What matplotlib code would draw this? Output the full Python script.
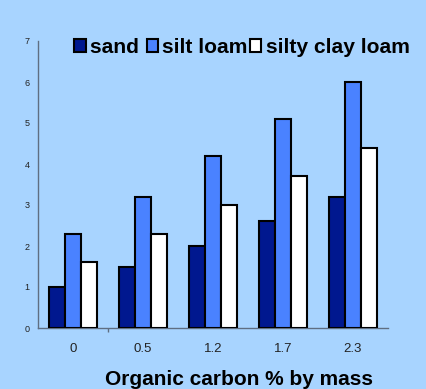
import matplotlib
matplotlib.use("Agg")
import matplotlib.pyplot as plt
import matplotlib.patches as mpatches
import numpy as np

plt.rcParams['font.family'] = ['Liberation Sans', 'DejaVu Sans']

# data
categories = ['0', '0.5', '1.2', '1.7', '2.3']
series_names = ['sand', 'silt loam', 'silty clay loam']
sand = [1.0, 1.5, 2.0, 2.6, 3.2]
silt_loam = [2.3, 3.2, 4.2, 5.1, 6.0]
silty_clay_loam = [1.6, 2.3, 3.0, 3.7, 4.4]
y_ticks = [0, 1, 2, 3, 4, 5, 6, 7]

bg = '#A8D4FF'
colors = ['#00188F', '#4A82FF', '#FFFFFF']

dpi = 100
fig = plt.figure(figsize=(4.26, 3.89), dpi=dpi, facecolor=bg)
ax = fig.add_axes([38 / 426, 61 / 389, 350 / 426, 287 / 389])
ax.set_facecolor(bg)

x = np.arange(len(categories))
w = 0.23
for i, (vals, c) in enumerate(zip([sand, silt_loam, silty_clay_loam], colors)):
	ax.bar(x + (i - 1) * w, vals, w, color=c, edgecolor='black', linewidth=1.5, zorder=3)

ax.set_xlim(-0.5, len(categories) - 0.5)
ax.set_ylim(0, 7)

for s in ['top', 'right']:
	ax.spines[s].set_visible(False)
for s in ['left', 'bottom']:
	ax.spines[s].set_color('#5F6E82')
	ax.spines[s].set_linewidth(1.0)

ax.set_yticks(y_ticks)
ax.set_yticklabels([str(t) for t in y_ticks], fontsize=6.5, color='#222222')
ax.tick_params(axis='y', length=0, pad=6)

ax.set_xticks(x)
ax.set_xticklabels(categories, fontsize=9.5, color='#222222')
ax.tick_params(axis='x', length=0, pad=11)
# single category divider tick seen in the reference
ax.set_xticks([0.5], minor=True)
ax.tick_params(axis='x', which='minor', length=3, color='#5F6E82', width=1)

fig.text(239 / 426, 1 - 385 / 389, 'Organic carbon % by mass', fontsize=15,
	fontweight='bold', ha='center', va='baseline')

handles = [mpatches.Patch(facecolor=c, edgecolor='black', linewidth=1.5) for c in colors]
leg = fig.legend(handles, ['sand ', 'silt loam', 'silty clay loam'], ncol=3, frameon=False,
	loc='upper left', bbox_to_anchor=(74 / 426, 1 - 38 / 389),
	prop={'size': 15.1, 'weight': 'bold'},
	handlelength=0.55, handleheight=0.55, handletextpad=0.2, columnspacing=0.1,
	borderpad=0, borderaxespad=0)

fig.savefig('out.png', dpi=dpi, facecolor=bg)
